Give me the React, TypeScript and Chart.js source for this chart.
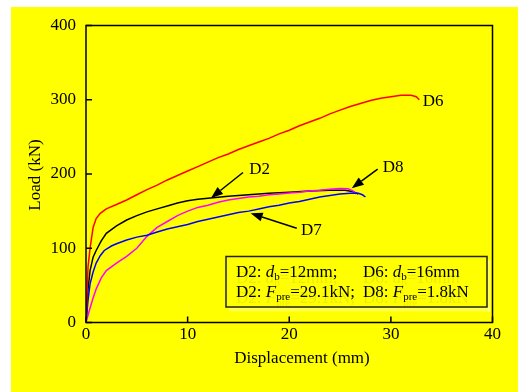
import { useEffect, useRef } from 'react';
import { Chart, registerables } from 'chart.js';

Chart.register(...registerables);

const FONT = '"Liberation Serif", "Times New Roman", serif';

// Axis ticks
const xTicks = [0, 10, 20, 30, 40];
const yTicks = [0, 100, 200, 300, 400];

// D6: bolt diameter 16 mm
const d6Disp = [0, 0.1, 0.2, 0.4, 0.7, 1.0, 1.4, 2, 3, 4, 5, 6, 7, 8, 9, 10, 11, 12, 13, 14, 15, 16, 17, 18, 19, 20, 21, 22, 23, 24, 25, 26, 27, 28, 29, 30, 31, 32, 32.5, 32.8];
const d6Load = [0, 40, 75, 100, 128, 140, 147, 153, 159, 165, 172, 179, 185, 192, 198, 204, 210, 216, 222, 227, 233, 238, 243, 248, 254, 259, 265, 270, 275, 281, 286, 291, 295, 299, 302, 304, 306, 306, 304, 300];

// D2: bolt diameter 12 mm, preload 29.1 kN
const d2Disp = [0, 0.2, 0.4, 0.7, 1.0, 1.5, 2, 3, 4, 5, 6, 7, 8, 9, 10, 11, 12, 14, 16, 18, 20, 22, 24, 25.5, 26.3, 26.8];
const d2Load = [0, 45, 70, 88, 97, 110, 120, 130, 138, 144, 149, 153, 157, 161, 164, 166, 167.5, 170, 172, 174, 175.5, 177, 178, 178, 176, 173];

// D7
const d7Disp = [0, 0.2, 0.4, 0.7, 1.0, 1.4, 1.8, 2.5, 3, 4, 5, 6, 7, 8, 9, 10, 11, 12, 13, 14, 15, 16, 17, 18, 19, 20, 21, 22, 23, 24, 25, 26, 26.8, 27.2, 27.5];
const d7Load = [0, 30, 52, 68, 80, 90, 97, 103, 106, 111, 115, 117.5, 122, 126, 129, 132, 136, 139, 142, 145, 148, 150, 153, 156, 158, 161, 163, 166, 169, 171, 173, 174, 174, 172, 169];

// D8: preload 1.8 kN
const d8Disp = [0, 0.3, 0.7, 1.0, 1.5, 2, 3, 4, 5, 6, 7, 8, 9, 10, 11, 12, 13, 14, 15, 16, 17, 18, 19, 20, 21, 22, 23, 24, 25, 25.8, 26.3, 26.6];
const d8Load = [0, 15, 33, 45, 60, 70, 80, 89, 100, 116, 128, 136, 144, 150, 155, 158, 162, 165, 167, 169, 170, 172, 173, 174.5, 175.5, 177, 178, 179.5, 180.5, 180, 177, 173];

// Curve labels: [text, x, y (baseline)]
const curveLabels: [string, number, number][] = [
  ['D6', 33.14, 291.6],
  ['D2', 16.07, 200],
  ['D8', 29.2, 203.1],
  ['D7', 21.16, 117.8],
];

// Leader arrows: [tailX, tailY, tipX, tipY] in data units
const arrows: [number, number, number, number][] = [
  [15.45, 202, 12.3, 167.7],
  [28.7, 206.7, 26.15, 180.7],
  [20.74, 126.9, 16.2, 147],
];

type Part = { t: string; it?: boolean; sub?: boolean };
const noteRows: { y: number; cols: Part[][] }[] = [
  {
    y: 277,
    cols: [
      [{ t: 'D2: ' }, { t: 'd', it: true }, { t: 'b', sub: true }, { t: '=12mm;' }],
      [{ t: 'D6: ' }, { t: 'd', it: true }, { t: 'b', sub: true }, { t: '=16mm' }],
    ],
  },
  {
    y: 296.5,
    cols: [
      [{ t: 'D2: ' }, { t: 'F', it: true }, { t: 'pre', sub: true }, { t: '=29.1kN;' }],
      [{ t: 'D8: ' }, { t: 'F', it: true }, { t: 'pre', sub: true }, { t: '=1.8kN' }],
    ],
  },
];
const noteColX = [236, 363];

const pts = (xs: number[], ys: number[]) => xs.map((x, i) => ({ x, y: ys[i] }));

function drawRich(ctx: CanvasRenderingContext2D, x: number, y: number, parts: Part[]) {
  let cx = x;
  for (const p of parts) {
    if (p.sub) ctx.font = `11px ${FONT}`;
    else if (p.it) ctx.font = `italic 17px ${FONT}`;
    else ctx.font = `17px ${FONT}`;
    ctx.fillText(p.t, cx, p.sub ? y + 3 : y);
    cx += ctx.measureText(p.t).width;
  }
}

const decor = {
  id: 'decor',
  beforeDraw(chart: Chart) {
    const { ctx, width, height } = chart;
    ctx.save();
    ctx.fillStyle = '#ffffff';
    ctx.fillRect(0, 0, width, height);
    ctx.fillStyle = '#ffff00';
    ctx.fillRect(11, 7, width - 11, height - 7);
    ctx.restore();
  },
  afterDraw(chart: Chart) {
    const { ctx, chartArea: a } = chart;
    const xs = chart.scales.x;
    const ys = chart.scales.y;
    ctx.save();
    ctx.strokeStyle = '#000';
    ctx.fillStyle = '#000';

    // frame
    ctx.lineWidth = 1.5;
    ctx.strokeRect(a.left, a.top, a.right - a.left, a.bottom - a.top);

    // inward ticks
    ctx.beginPath();
    for (const v of xTicks) {
      const px = xs.getPixelForValue(v);
      ctx.moveTo(px, a.bottom);
      ctx.lineTo(px, a.bottom - 6);
    }
    for (const v of yTicks) {
      const py = ys.getPixelForValue(v);
      ctx.moveTo(a.left, py);
      ctx.lineTo(a.left + 6, py);
    }
    ctx.stroke();

    // axis titles
    ctx.font = `17px ${FONT}`;
    ctx.textBaseline = 'alphabetic';
    ctx.textAlign = 'center';
    ctx.fillText('Displacement (mm)', 302, 362.5);
    ctx.save();
    ctx.translate(40, (a.top + a.bottom) / 2 + 1);
    ctx.rotate(-Math.PI / 2);
    ctx.fillText('Load (kN)', 0, 0);
    ctx.restore();

    // curve labels
    ctx.textAlign = 'left';
    for (const [t, x, y] of curveLabels) {
      ctx.fillText(t, xs.getPixelForValue(x), ys.getPixelForValue(y));
    }

    // arrows
    ctx.lineWidth = 1.5;
    for (const [x1, y1, x2, y2] of arrows) {
      const ax = xs.getPixelForValue(x1);
      const ay = ys.getPixelForValue(y1);
      const bx = xs.getPixelForValue(x2);
      const by = ys.getPixelForValue(y2);
      const ang = Math.atan2(by - ay, bx - ax);
      const hl = 12;
      const hw = 4.5;
      const baseX = bx - hl * Math.cos(ang);
      const baseY = by - hl * Math.sin(ang);
      ctx.beginPath();
      ctx.moveTo(ax, ay);
      ctx.lineTo(baseX, baseY);
      ctx.stroke();
      ctx.beginPath();
      ctx.moveTo(bx, by);
      ctx.lineTo(baseX + hw * Math.sin(ang), baseY - hw * Math.cos(ang));
      ctx.lineTo(baseX - hw * Math.sin(ang), baseY + hw * Math.cos(ang));
      ctx.closePath();
      ctx.fill();
    }

    // note box with its faint offset copy
    ctx.fillStyle = 'rgba(255,255,255,0.3)';
    ctx.fillRect(229, 307.5, 261, 4);
    ctx.fillRect(487.5, 260, 3, 51.5);
    ctx.fillStyle = 'rgba(110,110,0,0.13)';
    for (const row of noteRows) {
      row.cols.forEach((parts, i) => drawRich(ctx, noteColX[i], row.y + 6, parts));
    }
    ctx.fillStyle = '#000';
    for (const row of noteRows) {
      row.cols.forEach((parts, i) => drawRich(ctx, noteColX[i], row.y, parts));
    }
    ctx.strokeStyle = '#222';
    ctx.lineWidth = 1.5;
    ctx.strokeRect(226, 256.5, 261, 50.5);

    ctx.restore();
  },
};

export default function App() {
  const ref = useRef<HTMLCanvasElement>(null);

  useEffect(() => {
    if (!ref.current) return;
    const line = (label: string, data: { x: number; y: number }[], color: string) => ({
      label,
      data,
      borderColor: color,
      backgroundColor: color,
      borderWidth: 1.5,
      pointRadius: 0,
      showLine: true,
      fill: false,
      tension: 0,
    });
    const tickFont = { family: FONT, size: 17 };
    const chart = new Chart(ref.current, {
      type: 'scatter',
      data: {
        datasets: [
          line('D6', pts(d6Disp, d6Load), '#ff0000'),
          line('D7', pts(d7Disp, d7Load), '#0000ff'),
          line('D8', pts(d8Disp, d8Load), '#ff00ff'),
          line('D2', pts(d2Disp, d2Load), '#000000'),
        ],
      },
      options: {
        animation: false,
        responsive: false,
        devicePixelRatio: 1,
        layout: { padding: { left: 16, right: 25.5, top: 25.5, bottom: 9.5 } },
        plugins: { legend: { display: false }, tooltip: { enabled: false } },
        scales: {
          x: {
            type: 'linear',
            min: 0,
            max: 40,
            afterBuildTicks: (s: any) => {
              s.ticks = xTicks.map((value) => ({ value }));
            },
            afterFit: (s: any) => {
              s.height = 60;
            },
            grid: { display: false, drawTicks: false },
            border: { display: false },
            ticks: { font: tickFont, color: '#000', padding: 2, maxRotation: 0 },
          },
          y: {
            type: 'linear',
            min: 0,
            max: 400,
            afterBuildTicks: (s: any) => {
              s.ticks = yTicks.map((value) => ({ value }));
            },
            afterFit: (s: any) => {
              s.width = 70;
            },
            grid: { display: false, drawTicks: false },
            border: { display: false },
            ticks: { font: tickFont, color: '#000', padding: 10 },
          },
        },
      },
      plugins: [decor],
    });
    return () => chart.destroy();
  }, []);

  return (
    <div style={{ position: 'fixed', left: 0, top: 0, width: 518, height: 392 }}>
      <canvas ref={ref} width={518} height={392} style={{ display: 'block', width: 518, height: 392 }} />
    </div>
  );
}
